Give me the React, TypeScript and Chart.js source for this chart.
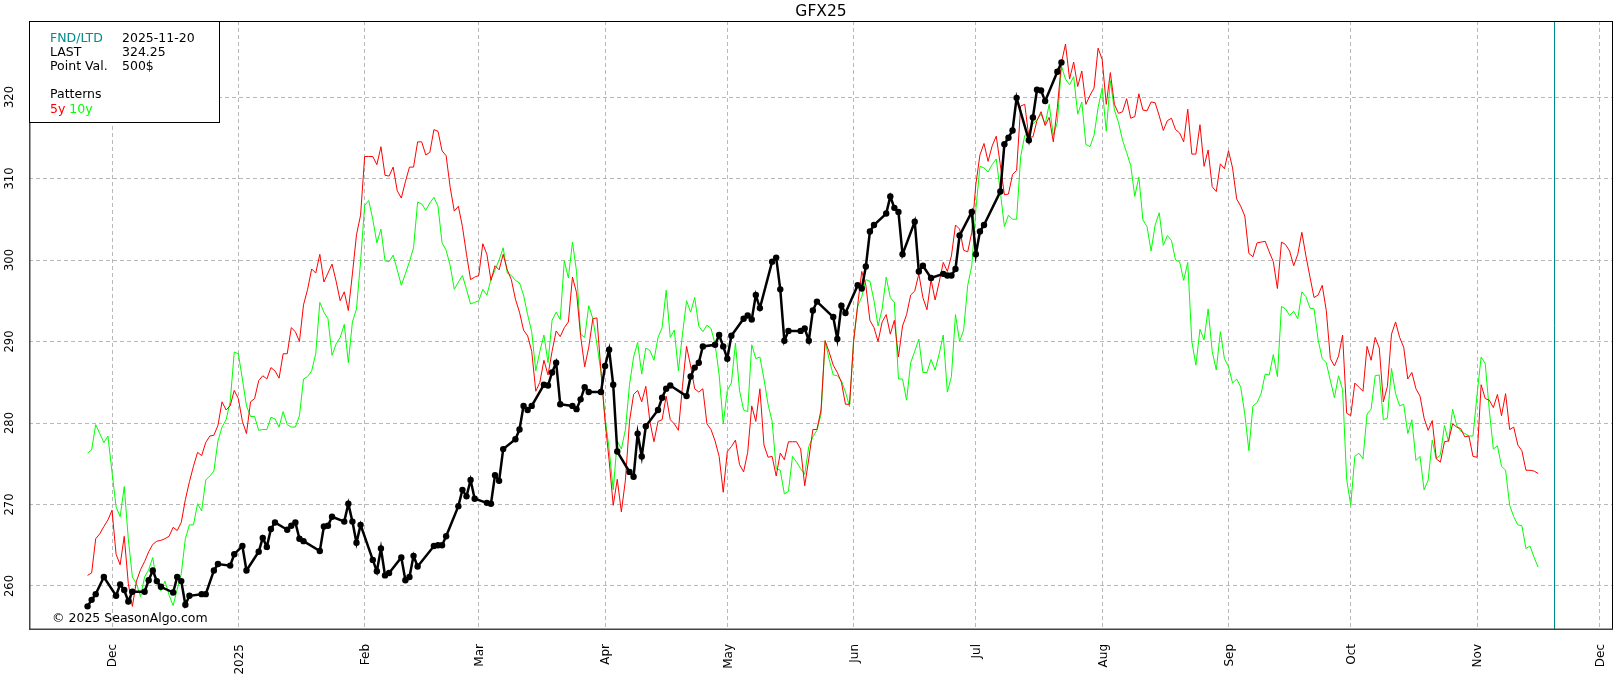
import { useEffect, useRef } from "react";
import { Chart, registerables, type Plugin } from "chart.js";

Chart.register(...registerables);

// x values are days counted from 2024-12-01
const MONTH_TICKS = [0, 31, 62, 90, 121, 151, 182, 212, 243, 274, 304, 335, 365];
const MONTH_LABELS = ["Dec", "2025", "Feb", "Mar", "Apr", "May", "Jun", "Jul", "Aug", "Sep", "Oct", "Nov", "Dec"];
const Y_TICKS = [260, 270, 280, 290, 300, 310, 320];
const FND_DAY = 354; // 2025-11-20

// seasonal patterns, one value per calendar day from 2024-11-25
const PATTERN_START = -6;
const PATTERN_5Y = [
  261.3, 261.6, 265.8, 266.4, 267.3, 268.1, 269.3, 263.9, 262.6, 266.1, 260.3, 257.5, 260.6, 262.0,
  263.0, 264.2, 265.1, 265.5, 265.6, 265.8, 266.1, 267.2, 266.8, 267.8, 270.6, 272.8, 274.7, 276.4,
  276.0, 277.6, 278.4, 278.5, 279.7, 282.6, 281.6, 282.1, 284.0, 283.0, 280.2, 278.7, 282.6, 283.0,
  285.2, 285.8, 285.4, 286.8, 286.4, 285.5, 288.5, 288.5, 291.7, 291.2, 290.0, 294.5, 296.4, 298.9,
  298.4, 300.7, 297.3, 298.4, 299.5, 297.4, 295.0, 296.1, 293.8, 298.3, 303.1, 305.5, 312.7, 312.7,
  312.7, 311.7, 313.9, 310.4, 310.3, 311.4, 308.5, 307.6, 309.6, 311.4, 311.4, 314.5, 314.5, 312.9,
  313.2, 316.0, 315.8, 313.4, 312.8, 308.9, 306.0, 306.6, 304.1, 300.7, 297.6, 297.9, 298.1, 302.0,
  300.7, 297.5, 299.3, 298.8, 300.7, 298.8, 297.6, 295.2, 293.6, 291.4, 290.7, 288.8, 283.9, 285.0,
  287.7, 285.9, 288.8, 291.3, 290.6, 291.7, 292.4, 297.9, 296.0, 290.7, 286.9, 289.3, 292.8, 292.9,
  286.4, 280.2, 275.4, 269.9, 273.1, 269.1, 273.0, 280.2, 283.5, 284.0, 282.6, 284.5, 280.2, 277.7,
  280.2, 280.4, 283.3, 280.4, 279.9, 279.1, 284.5, 289.4, 287.0, 284.2, 283.8, 284.2, 279.9, 279.2,
  277.8, 275.9, 271.5, 276.5, 277.1, 277.9, 274.9, 274.0, 276.4, 282.1, 280.2, 284.2, 277.3, 275.8,
  275.9, 273.5, 276.3, 275.5, 277.7, 277.7, 277.7, 276.8, 272.3, 275.6, 279.2, 279.2, 281.6, 290.1,
  288.7, 287.1, 286.2, 285.0, 282.3, 282.3, 290.0, 294.5, 298.6, 296.9, 292.6, 291.7, 290.0, 292.4,
  293.3, 290.9, 292.6, 288.1, 291.9, 293.3, 295.7, 296.2, 298.3, 295.4, 293.9, 297.6, 295.1, 297.3,
  299.7, 298.6, 300.5, 304.3, 303.8, 301.2, 301.0, 303.4, 309.3, 312.9, 314.3, 312.1, 314.0, 315.2,
  311.7, 308.0, 308.1, 310.5, 311.0, 318.9, 319.1, 315.1, 315.1, 317.1, 318.2, 316.5, 317.5, 314.5,
  318.7, 324.2, 326.5, 322.2, 324.3, 321.3, 323.2, 319.1, 320.2, 321.1, 326.0, 324.6, 319.1, 323.0,
  319.1, 318.0, 318.2, 319.8, 317.4, 317.6, 320.4, 318.4, 318.3, 319.4, 319.3, 317.7, 315.9, 317.1,
  317.4, 316.0, 315.6, 314.5, 318.5, 313.0, 313.0, 316.6, 311.5, 313.5, 309.0, 308.4, 311.8, 311.2,
  313.4, 311.3, 307.5, 306.6, 305.4, 300.8, 300.4, 302.1, 302.2, 302.3, 301.0, 299.8, 296.5, 302.2,
  301.9, 301.1, 299.3, 300.7, 303.4, 300.5, 297.9, 295.4, 295.7, 296.9, 293.8, 287.9, 287.0, 288.2,
  290.8, 281.2, 280.9, 284.9, 284.4, 283.9, 289.4, 287.7, 290.5, 289.2, 282.6, 284.5, 290.9, 292.4,
  290.5, 289.3, 285.4, 286.2, 284.2, 283.3, 280.6, 279.1, 280.3, 275.6, 275.2, 277.7, 277.8, 279.9,
  279.5, 279.3, 278.3, 278.4, 275.9, 275.8, 284.7, 283.0, 282.8, 281.9, 283.5, 280.9, 283.6, 279.2,
  279.5, 277.3, 276.6, 274.2, 274.2, 274.1, 273.8,
];
const PATTERN_10Y = [
  276.3, 276.7, 279.8, 278.7, 277.6, 278.4, 274.0, 269.7, 268.5, 272.2, 265.8, 261.1, 260.3, 258.7,
  261.1, 262.0, 263.5, 260.3, 259.4, 260.6, 258.9, 257.6, 259.6, 261.5, 265.8, 267.5, 267.5, 270.1,
  269.2, 273.0, 273.5, 274.1, 277.8, 279.5, 280.4, 282.6, 288.7, 288.5, 285.4, 282.1, 280.8, 280.8,
  279.1, 279.2, 279.2, 280.7, 280.5, 279.5, 281.4, 279.8, 279.5, 279.5, 280.9, 285.4, 285.7, 286.4,
  288.5, 294.8, 293.6, 292.8, 288.3, 289.7, 290.5, 292.1, 287.4, 292.4, 294.0, 299.8, 306.7, 307.3,
  305.0, 302.1, 303.8, 299.9, 299.8, 300.6, 298.8, 296.9, 298.3, 299.8, 301.5, 307.1, 306.9, 306.1,
  307.0, 307.7, 306.6, 302.1, 301.2, 299.3, 296.4, 297.3, 298.1, 296.4, 294.6, 294.8, 295.0, 296.4,
  295.7, 297.6, 298.8, 300.0, 301.5, 298.4, 298.1, 297.5, 297.2, 295.7, 293.3, 291.2, 286.4, 288.8,
  290.8, 287.4, 292.6, 293.6, 292.7, 299.9, 297.8, 302.2, 298.6, 290.9, 290.5, 294.4, 292.8, 289.7,
  286.2, 280.7, 276.8, 271.8, 277.8, 276.8, 279.2, 284.7, 288.1, 289.9, 286.0, 289.2, 288.9, 287.7,
  290.5, 291.7, 296.3, 290.5, 291.4, 286.4, 290.9, 295.0, 293.6, 295.4, 291.9, 291.2, 292.0, 291.6,
  289.7, 285.9, 279.9, 284.0, 284.9, 289.8, 284.0, 281.6, 281.4, 289.6, 287.9, 288.1, 285.4, 282.3,
  280.2, 274.4, 274.2, 271.3, 271.6, 275.9, 275.2, 274.4, 273.7, 277.1, 278.3, 279.1, 281.1, 290.1,
  287.8, 285.9, 285.8, 285.2, 283.8, 282.0, 290.2, 294.3, 295.5, 297.6, 297.4, 295.0, 291.9, 294.0,
  297.9, 295.4, 294.8, 285.4, 285.4, 282.8, 287.4, 288.8, 290.3, 286.2, 286.2, 287.8, 286.5, 288.5,
  290.8, 283.8, 285.7, 293.3, 290.0, 291.4, 296.9, 299.3, 306.2, 311.5, 311.3, 310.8, 311.7, 312.4,
  308.4, 304.1, 305.5, 305.0, 305.0, 312.7, 315.3, 315.6, 316.7, 317.2, 317.9, 316.7, 319.1, 315.3,
  316.9, 323.8, 322.2, 321.5, 322.5, 317.9, 319.4, 314.2, 313.9, 315.3, 318.7, 321.1, 315.8, 322.0,
  318.4, 316.9, 314.7, 313.2, 311.6, 307.8, 310.2, 304.9, 304.1, 301.1, 304.3, 305.8, 301.8, 303.0,
  302.4, 300.0, 299.8, 297.5, 299.7, 290.0, 287.1, 291.5, 290.2, 294.0, 288.8, 286.5, 291.2, 287.9,
  286.9, 284.9, 285.4, 284.4, 281.1, 276.6, 282.1, 282.5, 283.6, 286.0, 285.9, 288.4, 285.7, 294.3,
  294.0, 293.2, 293.7, 292.8, 296.1, 295.5, 294.1, 294.0, 290.2, 287.9, 287.4, 285.2, 283.1, 285.8,
  284.1, 273.1, 269.9, 275.9, 276.3, 275.6, 281.1, 281.7, 285.8, 285.9, 280.4, 280.6, 286.7, 283.6,
  282.1, 282.3, 278.7, 280.4, 275.4, 275.9, 271.8, 273.0, 277.9, 275.6, 276.1, 279.7, 277.7, 281.7,
  279.7, 279.0, 278.7, 278.4, 278.4, 283.5, 288.1, 287.3, 281.6, 276.8, 277.2, 274.7, 274.2, 269.9,
  268.5, 267.5, 267.4, 264.6, 264.9, 263.5, 262.3,
];

// GFX25 settlements, one per trading day from 2024-11-25 to 2025-07-22
const PRICE_START = -6;
const PRICE_END = 233;
const HOLIDAYS = [-3, 24, 31, 50, 78, 138, 176, 200, 215];
const PRICE = [
  257.5, 258.3, 259.0, 261.1,
  258.8, 260.2, 259.5, 258.1, 259.3,
  259.3, 260.7, 261.9, 260.6, 259.9,
  259.2, 261.1, 260.6, 257.7, 258.8,
  259.0, 259.0, 261.9, 262.7,
  262.5, 263.9, 264.9, 261.9,
  264.2, 265.9, 264.8, 267.0, 267.8,
  266.9, 267.4, 267.8, 265.8, 265.5,
  264.3, 267.3, 267.4, 268.5,
  267.9, 270.1, 267.9, 265.3, 267.5,
  263.2, 261.8, 264.6, 261.3, 261.6,
  263.5, 260.7, 261.1, 263.7, 262.4,
  264.9, 265.0, 265.0, 266.1,
  269.8, 271.8, 271.0, 273.0, 270.7,
  270.2, 270.1, 273.6, 272.9, 276.8,
  278.0, 279.2, 282.1, 281.6, 282.1,
  284.7, 284.6, 286.2, 287.4, 282.3,
  282.1, 281.7, 282.9, 284.4, 283.8,
  283.8, 287.0, 289.0, 284.7, 276.5,
  274.0, 273.4, 278.7, 275.9, 279.6,
  281.6, 283.1, 284.2, 284.6,
  283.3, 285.7, 286.8, 287.4, 289.4,
  289.6, 290.8, 289.4, 287.9, 290.7,
  292.8, 293.2, 292.7, 295.7, 294.1,
  299.8, 300.3, 296.4, 290.1, 291.3,
  291.3, 291.6, 290.1, 293.8, 294.9,
  293.0, 290.3, 294.4, 293.5,
  296.9, 296.5, 299.2, 303.5, 304.3,
  305.7, 307.8, 306.4, 305.9, 300.7,
  304.7, 298.6, 299.3, 297.8,
  298.3, 298.1, 298.1, 298.9, 303.0,
  305.9, 300.7, 303.5, 304.3,
  308.4, 314.2, 315.0, 315.9, 319.9,
  314.7, 317.5, 320.9, 320.8, 319.5,
  323.1, 324.25,
];

const FONT = "'DejaVu Sans', 'Liberation Sans', sans-serif";
const TEAL = "#008b8b";

function tradingDays(start: number, end: number, holidays: number[]) {
  const days: number[] = [];
  for (let d = start; d <= end; d++) {
    const wd = ((d % 7) + 7) % 7; // 0 = Sunday (2024-12-01 was a Sunday)
    if (wd === 0 || wd === 6 || holidays.includes(d)) continue;
    days.push(d);
  }
  return days;
}

const overlay: Plugin<"line"> = {
  id: "overlay",
  afterDraw(chart) {
    const { ctx, chartArea: a, scales } = chart;
    const x = scales.x;
    const y = scales.y;
    ctx.save();

    // expiry marker
    const fx = Math.round(x.getPixelForValue(FND_DAY)) + 0.5;
    ctx.strokeStyle = TEAL;
    ctx.lineWidth = 1;
    ctx.beginPath();
    ctx.moveTo(fx, a.top);
    ctx.lineTo(fx, a.bottom);
    ctx.stroke();

    // frame
    ctx.strokeStyle = "#000";
    ctx.strokeRect(a.left + 0.5, a.top + 0.5, a.right - a.left - 1, a.bottom - a.top - 1);
    ctx.strokeStyle = "#444";
    ctx.lineWidth = 1.5;
    ctx.beginPath();
    ctx.moveTo(a.left + 0.75, a.top);
    ctx.lineTo(a.left + 0.75, a.bottom - 0.75);
    ctx.lineTo(a.right, a.bottom - 0.75);
    ctx.stroke();

    // rotated tick labels
    ctx.fillStyle = "#000";
    ctx.font = `12px ${FONT}`;
    ctx.textAlign = "right";
    ctx.textBaseline = "alphabetic";
    MONTH_TICKS.forEach((v, i) => {
      ctx.save();
      ctx.translate(x.getPixelForValue(v) + 4.4, a.bottom + 14);
      ctx.rotate(-Math.PI / 2);
      ctx.fillText(MONTH_LABELS[i], 0, 0);
      ctx.restore();
    });
    ctx.font = `11.5px ${FONT}`;
    ctx.textAlign = "center";
    Y_TICKS.forEach((v) => {
      ctx.save();
      ctx.translate(13.3, y.getPixelForValue(v));
      ctx.rotate(-Math.PI / 2);
      ctx.fillText(String(v), 0, 0);
      ctx.restore();
    });

    // title
    ctx.font = `15.5px ${FONT}`;
    ctx.fillText("GFX25", (a.left + a.right) / 2, 15.5);

    // info box
    const bx = a.left;
    const by = a.top;
    ctx.fillStyle = "#fff";
    ctx.fillRect(bx, by, 190, 101);
    ctx.strokeStyle = "#000";
    ctx.lineWidth = 1;
    ctx.strokeRect(bx + 0.5, by + 0.5, 190, 101);
    ctx.font = `12.5px ${FONT}`;
    ctx.textAlign = "left";
    const rows: [string, string, string][] = [
      ["FND/LTD", "2025-11-20", TEAL],
      ["LAST", "324.25", "#000"],
      ["Point Val.", "500$", "#000"],
    ];
    rows.forEach(([k, v, c], i) => {
      const ty = by + 20.5 + i * 14.2;
      ctx.fillStyle = c;
      ctx.fillText(k, bx + 21, ty);
      ctx.fillStyle = "#000";
      ctx.fillText(v, bx + 93, ty);
    });
    ctx.fillStyle = "#000";
    ctx.fillText("Patterns", bx + 21, by + 77.3);
    ctx.fillStyle = "#ff0000";
    ctx.fillText("5y", bx + 21, by + 91.5);
    ctx.fillStyle = "#00ff00";
    ctx.fillText("10y", bx + 21 + ctx.measureText("5y ").width, by + 91.5);

    // watermark
    ctx.fillStyle = "#000";
    ctx.fillText("\u00a9 2025 SeasonAlgo.com", a.left + 23, a.bottom - 8.5);
    ctx.restore();
  },
};

export default function App() {
  const canvasRef = useRef<HTMLCanvasElement>(null);

  useEffect(() => {
    document.body.style.margin = "0";
    const canvas = canvasRef.current;
    if (!canvas) return;
    const days = tradingDays(PRICE_START, PRICE_END, HOLIDAYS);
    const price = PRICE.map((v, i) => ({ x: days[i], y: v }));
    const pattern = (vals: number[]) => vals.map((v, i) => ({ x: PATTERN_START + i, y: v }));

    const chart = new Chart(canvas, {
      type: "line",
      data: {
        datasets: [
          {
            label: "GFX25",
            data: price,
            borderColor: "#000",
            backgroundColor: "#000",
            borderWidth: 2.5,
            pointRadius: 3.2,
            pointBorderWidth: 0,
            pointBackgroundColor: "#000",
            order: 0,
          },
          {
            label: "5y",
            data: pattern(PATTERN_5Y),
            borderColor: "#ff0000",
            borderWidth: 1,
            pointRadius: 0,
            order: 1,
          },
          {
            label: "10y",
            data: pattern(PATTERN_10Y),
            borderColor: "#00ff00",
            borderWidth: 1,
            pointRadius: 0,
            order: 2,
          },
        ],
      },
      options: {
        animation: false,
        responsive: true,
        maintainAspectRatio: false,
        events: [],
        layout: { padding: { left: 29, top: 21, right: 8, bottom: 48 } },
        plugins: { legend: { display: false }, tooltip: { enabled: false }, title: { display: false } },
        scales: {
          x: {
            type: "linear",
            min: -20.37,
            max: 368.36,
            afterBuildTicks: (s) => {
              s.ticks = MONTH_TICKS.map((value) => ({ value }));
            },
            ticks: { display: false },
            grid: { color: "#b8b8b8", drawTicks: false, lineWidth: 1 },
            border: { display: false, dash: [4, 3] },
          },
          y: {
            type: "linear",
            min: 254.6,
            max: 329.33,
            afterBuildTicks: (s) => {
              s.ticks = Y_TICKS.map((value) => ({ value }));
            },
            ticks: { display: false },
            grid: { color: "#b8b8b8", drawTicks: false, lineWidth: 1 },
            border: { display: false, dash: [4, 3] },
          },
        },
      },
      plugins: [overlay],
    });
    return () => chart.destroy();
  }, []);

  return (
    <div style={{ position: "relative", width: 1621, height: 678, background: "#fff" }}>
      <canvas ref={canvasRef} />
    </div>
  );
}
